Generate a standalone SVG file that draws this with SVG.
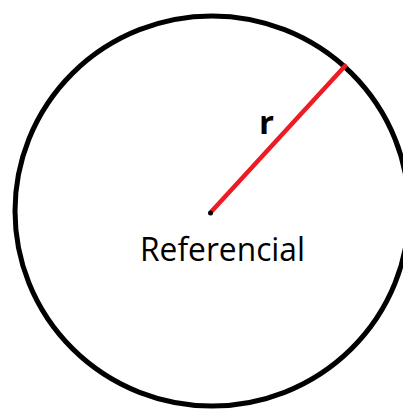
<svg xmlns="http://www.w3.org/2000/svg" width="403" height="409" viewBox="0 0 403 409">
<style>
.lbl{font-family:"Open Sans","Noto Sans","Liberation Sans",sans-serif;fill:#000}
</style>
<rect width="403" height="409" fill="#fff"/>
<g id="circle">
<ellipse cx="212" cy="211" rx="197" ry="195" fill="none" stroke="#000" stroke-width="5"/>
</g>
<g id="connectors">
<line x1="211" y1="212" x2="345" y2="66" stroke="#ED1C24" stroke-width="4.5" stroke-linecap="round"/>
</g>
<g id="center">
<circle cx="210.5" cy="213" r="2.5" fill="#000"/>
<text class="lbl" x="140" y="261" font-size="32" textLength="165" lengthAdjust="spacingAndGlyphs">Referencial</text>
</g>
<g id="radius-label">
<text class="lbl" x="259" y="134" font-size="33" font-weight="bold">r</text>
</g>
</svg>
